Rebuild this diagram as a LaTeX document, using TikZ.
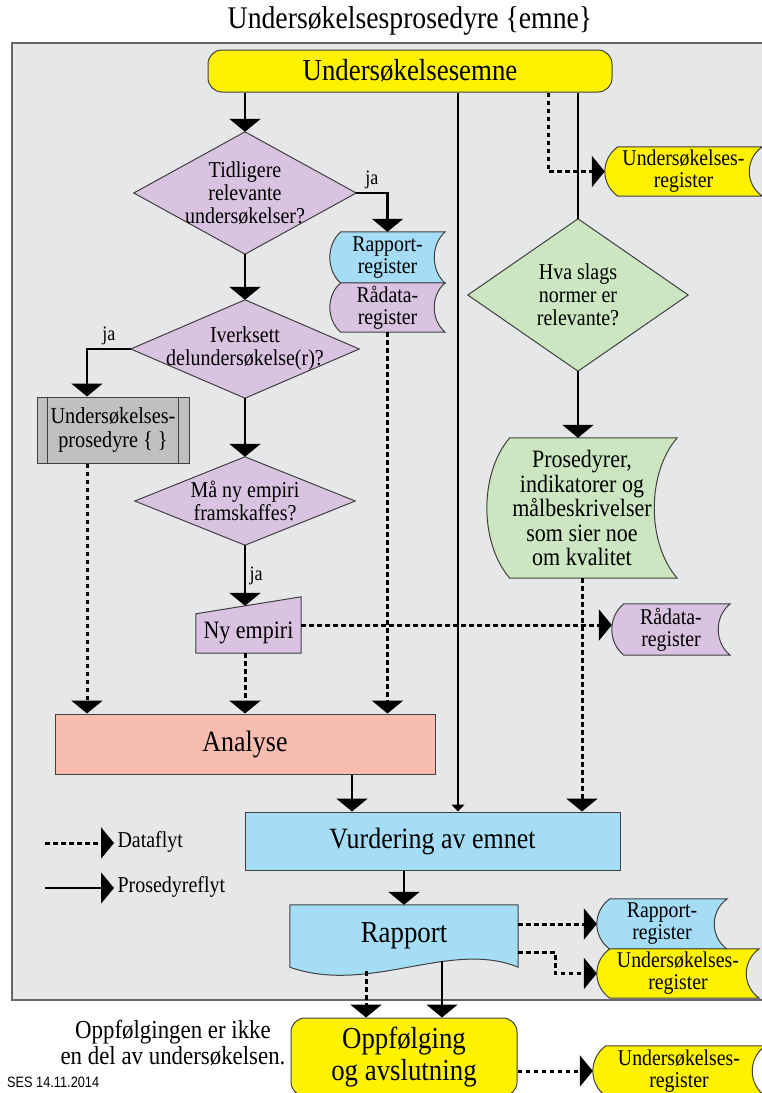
\documentclass[tikz,border=0pt]{standalone}
\usepackage{fontspec}
\setmainfont[FakeStretch=0.88]{Liberation Serif}
\newfontfamily\sesfont[FakeStretch=0.85]{Liberation Sans}
\usetikzlibrary{arrows.meta,calc}
\pgfdeclarelayer{bg}
\pgfsetlayers{bg,main}

\definecolor{framegray}{HTML}{E6E7E9}
\definecolor{sesyellow}{HTML}{FFF200}
\definecolor{seslilac}{HTML}{D9C3E0}
\definecolor{sesblue}{HTML}{A6DDF6}
\definecolor{sesgreen}{HTML}{CCE6C1}
\definecolor{sessalmon}{HTML}{F8BDB1}
\definecolor{sesgray}{HTML}{C0C0C0}

\tikzset{
  shapeline/.style={draw=black!75, line width=1pt},
  box/.style={shapeline, rectangle, inner sep=0pt, align=center},
  slot/.style={rectangle, inner sep=0pt, align=center},
  querytext/.style={slot, font=\fontsize{22.7}{23}\selectfont},
  regtext/.style={slot, font=\fontsize{22.5}{22}\selectfont},
  yeslabel/.style={font=\fontsize{20.5}{22}\selectfont},
  procflow/.style={line width=2.5pt, -{Triangle[length=13pt,width=31pt]}},
  thinflow/.style={line width=1.2pt, -{Triangle[length=7pt,width=13pt]}},
  dataflow/.style={line width=3pt, dash pattern=on 4.5pt off 3.5pt, -{Triangle[length=13pt,width=31pt]}},
}

% shapes drawn behind the text of a slot node
\newcommand\queryshape[2]{%
  \begin{pgfonlayer}{bg}
  \draw[shapeline,fill=#2] (#1.north) -- (#1.east) -- (#1.south) -- (#1.west) -- cycle;
  \end{pgfonlayer}}
\newcommand\storedshape[3]{%
  \begin{pgfonlayer}{bg}
  \draw[shapeline,fill=#2] ($(#1.north west)+(#3,0)$) -- (#1.north east)
    .. controls ($(#1.north east)!0.25!(#1.south east)+(-1.33*#3,0)$)
            and ($(#1.north east)!0.75!(#1.south east)+(-1.33*#3,0)$) .. (#1.south east)
    -- ($(#1.south west)+(#3,0)$)
    .. controls ($(#1.south west)!0.25!(#1.north west)+(-0.33*#3,0)$)
            and ($(#1.south west)!0.75!(#1.north west)+(-0.33*#3,0)$) .. ($(#1.north west)+(#3,0)$)
    -- cycle;
  \end{pgfonlayer}}
\newcommand\docshape[2]{%
  \begin{pgfonlayer}{bg}
  \draw[shapeline,fill=#2] (#1.south west) -- (#1.north west) -- (#1.north east) -- (#1.south east)
    .. controls ($(#1.south east)!0.3!(#1.south west)+(0,-28)$)
            and ($(#1.south east)!0.65!(#1.south west)+(0,28)$) .. (#1.south west) -- cycle;
  \end{pgfonlayer}}
\newcommand\inputshape[3]{%
  \begin{pgfonlayer}{bg}
  \draw[shapeline,fill=#2] (#1.south west) -- (#1.south east) -- (#1.north east)
    -- ($(#1.north west)+(0,#3)$) -- cycle;
  \end{pgfonlayer}}

\begin{document}
\begin{tikzpicture}[x=1pt,y=-1pt]
\useasboundingbox (0,0) rectangle (761,1093);
\clip (0,0) rectangle (761,1093);
\begin{pgfonlayer}{bg}
\draw[draw=black!60, line width=1.5pt, fill=framegray] (12,43) rectangle (775,1000);
\end{pgfonlayer}

\node[font=\fontsize{31.5}{33}\selectfont] (title) at (410,21) {Undersøkelsesprosedyre \{emne\}};

\node[box, fill=sesyellow, rounded corners=14pt, minimum width=404pt, minimum height=42pt,
  font=\fontsize{30.5}{32}\selectfont] (emne) at (410,71) {Undersøkelsesemne};

% left column
\node[querytext, minimum width=222pt, minimum height=122pt] (q1) at (245,193) {Tidligere\\relevante\\undersøkelser?};
\queryshape{q1}{seslilac}
\node[querytext, minimum width=228pt, minimum height=98pt] (q2) at (245,349) {Iverksett\\delundersøkelse(r)?};
\queryshape{q2}{seslilac}
\node[querytext, minimum width=220pt, minimum height=88pt] (q3) at (245,501) {Må ny empiri\\framskaffes?};
\queryshape{q3}{seslilac}

\node[slot, minimum width=105pt, minimum height=56pt,
  label={[font=\fontsize{25}{26}\selectfont, yshift=-8pt]center:Ny empiri}] (ny) at (248.5,625) {};
\inputshape{ny}{seslilac}{17}

\node[box, fill=sesgray, minimum width=152pt, minimum height=66pt,
  font=\fontsize{23}{24}\selectfont] (proc) at (113,430) {Undersøkelses-\\prosedyre \{ \}};
\draw[shapeline] ($(proc.north west)+(11,0)$) -- ($(proc.south west)+(11,0)$);
\draw[shapeline] ($(proc.north east)+(-11,0)$) -- ($(proc.south east)+(-11,0)$);

\node[regtext, minimum width=115pt, minimum height=51pt] (rapreg1) at (387.5,257.5) {Rapport-\\register};
\storedshape{rapreg1}{sesblue}{11}
\node[regtext, minimum width=115pt, minimum height=49pt] (raareg1) at (387.5,307.5) {Rådata-\\register};
\storedshape{raareg1}{seslilac}{11}

% right column
\node[regtext, minimum width=157pt, minimum height=49pt] (undreg1) at (683.5,171.5) {Undersøkelses-\\register};
\storedshape{undreg1}{sesyellow}{13}
\node[querytext, minimum width=220pt, minimum height=152pt] (q4) at (578,295) {Hva slags\\normer er\\relevante?};
\queryshape{q4}{sesgreen}
\node[slot, minimum width=190pt, minimum height=140pt, font=\fontsize{25}{24.5}\selectfont] (kval) at (582,508)
  {Prosedyrer,\\indikatorer og\\målbeskrivelser\\som sier noe\\om kvalitet};
\storedshape{kval}{sesgreen}{23}
\node[regtext, minimum width=118pt, minimum height=51pt] (raareg2) at (671,629.5) {Rådata-\\register};
\storedshape{raareg2}{seslilac}{12}

% lower part
\node[box, fill=sessalmon, minimum width=380pt, minimum height=60pt,
  font=\fontsize{29.5}{31}\selectfont] (analyse) at (245,744) {Analyse};
\node[box, fill=sesblue, minimum width=375pt, minimum height=58pt,
  font=\fontsize{29.5}{31}\selectfont] (vurd) at (432.5,841) {Vurdering av emnet};
\node[slot, minimum width=228pt, minimum height=62pt, font=\fontsize{30.5}{32}\selectfont] (rapport) at (404,936) {Rapport};
\docshape{rapport}{sesblue}
\node[regtext, minimum width=130pt, minimum height=50pt] (rapreg2) at (662,924) {Rapport-\\register};
\storedshape{rapreg2}{sesblue}{13}
\node[regtext, minimum width=162pt, minimum height=49pt] (undreg2) at (678,973.5) {Undersøkelses-\\register};
\storedshape{undreg2}{sesyellow}{13}

\node[box, fill=sesyellow, rounded corners=14pt, minimum width=226pt, minimum height=78pt,
  font=\fontsize{30.5}{32}\selectfont] (opp) at (404,1057) {Oppfølging\\og avslutning};
\node[regtext, minimum width=172pt, minimum height=50pt] (undreg3) at (679,1071) {Undersøkelses-\\register};
\storedshape{undreg3}{sesyellow}{13}
\node[font=\fontsize{26}{26}\selectfont, align=center] (note) at (173,1043) {Oppfølgingen er ikke\\en del av undersøkelsen.};
\node[font=\sesfont\fontsize{15}{16}\selectfont, anchor=west, inner sep=0pt] (ses) at (7,1082) {SES 14.11.2014};

% legend
\coordinate (lgd0) at (45,843);
\coordinate (lgp0) at (45,888);
\node[font=\fontsize{22.7}{24}\selectfont, anchor=west] (lgdata) at (114,842) {Dataflyt};
\node[font=\fontsize{22.7}{24}\selectfont, anchor=west] (lgproc) at (114,887) {Prosedyreflyt};
\draw[dataflow] (lgd0) -- (lgd0 -| lgdata.west);
\draw[procflow] (lgp0) -- (lgp0 -| lgproc.west);

% connectors
\draw[procflow] (emne.south -| q1.north) -- (q1.north);
\draw[procflow] (q1.south) -- (q2.north);
\draw[procflow] (q1.east) -| node[pos=0.25, above, yeslabel] {ja} (rapreg1.north);
\coordinate (procin) at ($(proc.north)+(-26,0)$);
\draw[procflow] (q2.west) -| node[pos=0.25, above, yeslabel] {ja} (procin);
\draw[procflow] (q2.south) -- (q3.north);
\coordinate (nyin) at ($(ny.north)+(-3.5,9)$);
\draw[procflow] (q3.south) -- node[right, yeslabel] {ja} (nyin);
\draw[dataflow] (ny.east) -- (ny.east -| raareg2.west);
\draw[dataflow] (ny.south -| nyin) -- (nyin |- analyse.north);
\coordinate (procout) at ($(proc.south)+(-26,0)$);
\draw[dataflow] (procout) -- (procout |- analyse.north);
\draw[dataflow] (raareg1.south) -- (raareg1.south |- analyse.north);
\coordinate (anout) at ($(analyse.south)+(107,0)$);
\draw[procflow] (anout) -- (anout |- vurd.north);

\coordinate (emout1) at ($(emne.south)+(48,0)$);
\draw[thinflow] (emout1) -- (emout1 |- vurd.north);
\coordinate (emout2) at ($(emne.south)+(138,0)$);
\draw[dataflow] (emout2) |- (undreg1.west);
\draw[line width=1.8pt] (q4.north |- emne.south) -- (q4.north);
\draw[procflow] (q4.south) -- (q4.south |- kval.north);
\draw[dataflow] (kval.south) -- (kval.south |- vurd.north);

\draw[procflow] (rapport.north |- vurd.south) -- (rapport.north);
\draw[dataflow] (rapport.east |- rapreg2.west) -- (rapreg2.west);
\coordinate (rapout1) at ($(rapport.south east)+(0,-15)$);
\draw[dataflow] (rapout1) -- ++(37,0) |- (undreg2.west);
\coordinate (rapout2) at ($(rapport.south)+(-38,4)$);
\draw[dataflow] (rapout2) -- (rapout2 |- opp.north);
\coordinate (rapout3) at ($(rapport.south)+(38,-6)$);
\draw[procflow] (rapout3) -- (rapout3 |- opp.north);
\draw[dataflow] (opp.east |- undreg3.west) -- (undreg3.west);
\end{tikzpicture}
\end{document}
